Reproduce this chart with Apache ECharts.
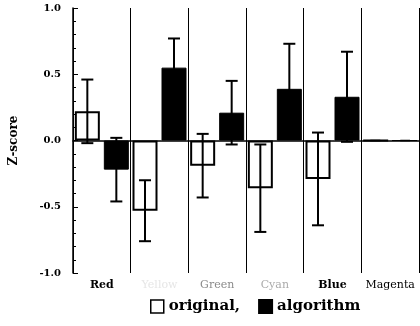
<!DOCTYPE html>
<html>
<head>
<meta charset="utf-8">
<script src="https://cdn.jsdelivr.net/npm/echarts@6/dist/echarts.min.js"></script>
<style>
  html, body { margin: 0; padding: 0; background: #fff; }
  #chart { width: 420px; height: 326px; }
</style>
</head>
<body>
<div id="chart"></div>
<script>
const categories = ['Red', 'Yellow', 'Green', 'Cyan', 'Blue', 'Magenta']
const original = [0.22, -0.53, -0.19, -0.36, -0.29, 0]
const originalErr = [0.24, 0.23, 0.24, 0.33, 0.35, 0]
const algorithm = [-0.22, 0.55, 0.21, 0.39, 0.33, 0]
const algorithmErr = [0.24, 0.22, 0.24, 0.34, 0.34, 0]
const yTicks = [-1.0, -0.5, 0.0, 0.5, 1.0]

const chart = echarts.init(document.getElementById('chart'))

const serif = 'DejaVu Serif'
const barW = 25
const barOff = 14.5

// label colour per category (scan made some faint)
const labelStyle = { Red: 'k', Yellow: 'y', Green: 'g', Cyan: 'c', Blue: 'k', Magenta: 'm' }

function errorSeries (name, vals, errs, side) {
  return {
    name: name + 'Err',
    type: 'custom',
    z: 5,
    data: vals.map((v, i) => [i, v, errs[i]]),
    renderItem: function (params, api) {
      const i = api.value(0)
      const v = api.value(1)
      const e = api.value(2)
      if (!e) return null
      const hi = api.coord([i, v + e])
      const lo = api.coord([i, v - e])
      const x = hi[0] + side * barOff
      const cap = 6
      const style = { stroke: '#000', lineWidth: 2 }
      return {
        type: 'group',
        children: [
          { type: 'line', shape: { x1: x, y1: hi[1], x2: x, y2: lo[1] }, style },
          { type: 'line', shape: { x1: x - cap, y1: hi[1], x2: x + cap, y2: hi[1] }, style },
          { type: 'line', shape: { x1: x - cap, y1: lo[1], x2: x + cap, y2: lo[1] }, style }
        ]
      }
    }
  }
}

const option = {
  animation: false,
  backgroundColor: '#fff',
  grid: { left: 70, right: 1, top: 8, bottom: 53 },
  legend: {
    bottom: 7,
    left: 145,
    itemWidth: 13,
    itemHeight: 13,
    itemGap: 18,
    data: [
      { name: 'original', icon: 'rect', itemStyle: { color: '#fff', borderColor: '#000', borderWidth: 1.5 } },
      { name: 'algorithm', icon: 'rect', itemStyle: { color: '#000' } }
    ],
    formatter: n => n === 'original' ? 'original,' : n,
    textStyle: { fontFamily: serif, fontWeight: 'bold', fontSize: 15, color: '#000' }
  },
  xAxis: {
    type: 'category',
    data: categories,
    axisLine: { lineStyle: { color: '#000', width: 1.5 } },
    axisTick: { show: false },
    splitLine: { show: true, lineStyle: { color: '#000', width: 1 } },
    axisLabel: {
      margin: 7,
      interval: 0,
      formatter: v => '{' + labelStyle[v] + '|' + v + '}',
      rich: {
        k: { fontFamily: serif, fontWeight: 'bold', fontSize: 11, color: '#000' },
        y: { fontFamily: serif, fontSize: 11, color: '#e6e6e6' },
        g: { fontFamily: serif, fontSize: 11, color: '#8a8a8a' },
        c: { fontFamily: serif, fontSize: 11, color: '#aaaaaa' },
        m: { fontFamily: serif, fontSize: 11, color: '#000' }
      }
    }
  },
  yAxis: {
    type: 'value',
    min: yTicks[0],
    max: yTicks[yTicks.length - 1],
    interval: 0.5,
    name: 'Z-score',
    nameLocation: 'middle',
    nameRotate: 90,
    nameGap: 53,
    nameTextStyle: { fontFamily: serif, fontWeight: 'bold', fontSize: 12, color: '#000' },
    axisLine: { show: true, lineStyle: { color: '#000', width: 1.5 } },
    axisTick: { show: true, inside: true, length: 5, lineStyle: { color: '#000' } },
    minorTick: { show: true, splitNumber: 5, length: 3, lineStyle: { color: '#000' } },
    splitLine: { show: false },
    axisLabel: {
      margin: 12,
      formatter: v => v.toFixed(1),
      fontFamily: serif,
      fontWeight: 'bold',
      fontSize: 10,
      color: '#000'
    }
  },
  series: [
    {
      name: 'original',
      type: 'bar',
      barWidth: barW,
      barGap: '16%',
      data: original,
      itemStyle: { color: '#fff', borderColor: '#000', borderWidth: 2 }
    },
    {
      name: 'algorithm',
      type: 'bar',
      barWidth: barW,
      data: algorithm,
      itemStyle: { color: '#000', borderColor: '#000', borderWidth: 1 }
    },
    errorSeries('original', original, originalErr, -1),
    errorSeries('algorithm', algorithm, algorithmErr, 1),
    {
      // dashed zero level in the empty Magenta column
      name: 'zero',
      type: 'custom',
      z: 5,
      data: [[categories.length - 1, 0]],
      renderItem: function (params, api) {
        const p = api.coord([api.value(0), api.value(1)])
        const w = api.size([1, 0])[0]
        return {
          type: 'line',
          shape: { x1: p[0] - w * 0.345, y1: p[1], x2: p[0] + w * 0.345, y2: p[1] },
          style: { stroke: '#000', lineWidth: 1.5, lineDash: [10, 20] }
        }
      }
    }
  ]
}

chart.setOption(option)
</script>
</body>
</html>
